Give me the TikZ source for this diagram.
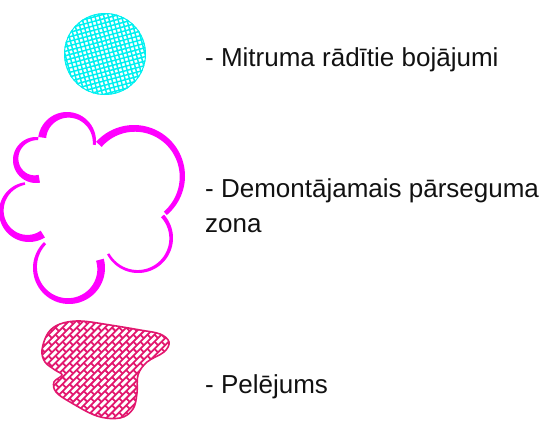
\documentclass[tikz,border=0pt]{standalone}
\usepackage{fontspec}
\setmainfont{Liberation Sans}
\usetikzlibrary{positioning}
\definecolor{lgink}{HTML}{111111}
\definecolor{lgcyan}{HTML}{00F0F0}
\definecolor{lgmagenta}{HTML}{FF00FF}
\definecolor{lgpink}{HTML}{E2186F}
\tikzset{
  lg text/.style={font=\fontsize{26}{30}\selectfont, text=lgink, inner sep=0pt, anchor=base west},
  lg grid/.style={draw=lgcyan, line width=1.5pt},
  lg weave/.style={draw=lgpink, line width=1.8pt},
  lg lobe/.style={fill=lgmagenta}
}
% crescent arc of the cloud: centre x, centre y, radius, start angle, end angle, start width, end width
\newcommand\cloudlobe[7]{%
  \fill[lg lobe] plot[domain=#4:#5, samples=50] ({#1+#3*cos(\x)},{#2+#3*sin(\x)})
    -- plot[domain=#5:#4, samples=50] ({#1+(#3-#6-(#7-#6)*(\x-#4)/(#5-#4))*cos(\x)},{#2+(#3-#6-(#7-#6)*(\x-#4)/(#5-#4))*sin(\x)})
    -- cycle;}
\newcommand\moldblob{plot[smooth cycle, tension=0.6] coordinates {(42,350) (48,333) (60,324) (80,321) (110,325) (140,330) (160,334) (169,342) (164,352) (147,362) (138,375) (137,393) (133,409) (120,418) (97,416) (70,402) (56,392) (54,382) (62,375) (55,370) (45,362)}}

\begin{document}
\begin{tikzpicture}[x=1pt, y=-1pt]
  \useasboundingbox (0,0) rectangle (546,423);
  % moisture damage
  \begin{scope}
    \clip (105,54) circle (41);
    \begin{scope}[rotate around={15:(105,54)}]
      \foreach \k in {-12,...,12}
        \draw[lg grid] (105+4.3*\k,0) -- (105+4.3*\k,110) (50,54+4.3*\k) -- (160,54+4.3*\k);
    \end{scope}
  \end{scope}
  \draw[lgcyan, line width=1pt] (105,54) circle (40.5);
  \node[lg text] (moisture) at (205,66) {- Mitruma rādītie bojājumi};
  % removable ceiling zone
  \cloudlobe{67}{141}{29}{188}{368}{8}{3}
  \cloudlobe{134}{176}{51}{222}{410}{7.5}{4.5}
  \cloudlobe{138}{238}{35}{-42}{152}{4}{2.5}
  \cloudlobe{69}{268}{36}{-15}{226}{8}{3}
  \cloudlobe{29}{212}{30}{58}{262}{8}{2.5}
  \cloudlobe{36}{160}{23}{80}{276}{8}{3}
  \node[lg text] (ceiling) at (205,197) {- Demontājamais pārseguma};
  \node[lg text] (ceilingwrap) at (205,232) {zona};
  % mould
  \begin{scope}
    \clip \moldblob;
    \begin{scope}[shift={(105,370)}, rotate=45]
      \foreach \j in {-16,...,16} {
        \draw[lg weave] (-120,5*\j) -- (120,5*\j);
        \foreach \k in {-12,...,12}
          \draw[lg weave] ({10*\k+5*mod(\j,2)},5*\j) -- ++(0,5);
      }
    \end{scope}
  \end{scope}
  \draw[lgpink, line width=1.6pt] \moldblob;
  \node[lg text] (mold) at (205,393) {- Pelējums};
\end{tikzpicture}
\end{document}
